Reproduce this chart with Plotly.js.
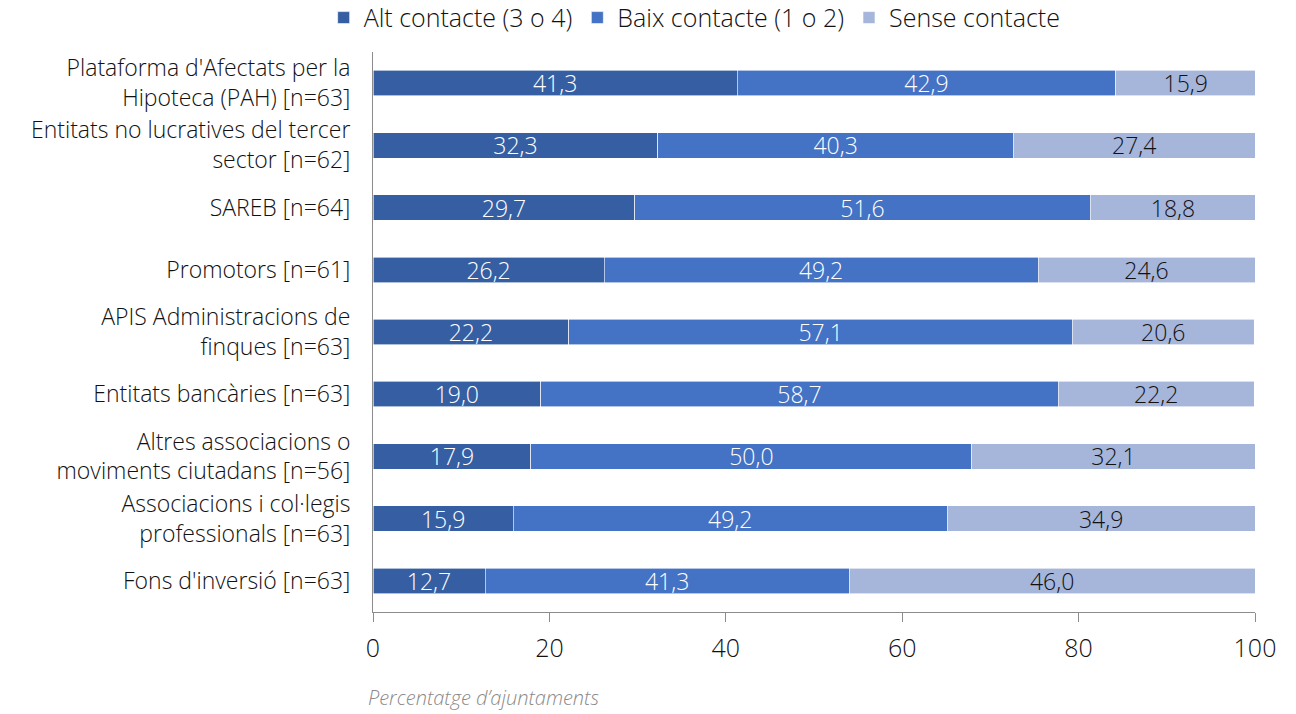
<!DOCTYPE html>
<html>
<head>
<meta charset="utf-8">
<script src="https://cdn.plot.ly/plotly-3.0.1.min.js"></script>
<style>html,body{margin:0;padding:0;background:#fff;}#chart{width:1296px;height:714px;}</style>
</head>
<body>
<div id="chart"></div>
<script>
const categories = [
  "Plataforma d'Afectats per la<br>Hipoteca (PAH) [n=63]",
  "Entitats no lucratives del tercer<br>sector [n=62]",
  "SAREB [n=64]",
  "Promotors [n=61]",
  "APIS Administracions de<br>finques [n=63]",
  "Entitats bancàries [n=63]",
  "Altres associacions o<br>moviments ciutadans [n=56]",
  "Associacions i col·legis<br>professionals [n=63]",
  "Fons d'inversió [n=63]"
];
const seriesNames = ["Alt contacte (3 o 4)", "Baix contacte (1 o 2)", "Sense contacte"];
const altContacte = [41.3, 32.3, 29.7, 26.2, 22.2, 19.0, 17.9, 15.9, 12.7];
const baixContacte = [42.9, 40.3, 51.6, 49.2, 57.1, 58.7, 50.0, 49.2, 41.3];
const senseContacte = [15.9, 27.4, 18.8, 24.6, 20.6, 22.2, 32.1, 34.9, 46.0];
const xTicks = [0, 20, 40, 60, 80, 100];
const xTitle = "Percentatge d\u2019ajuntaments";

const colors = ["#365fa3", "#4472c4", "#a6b5da"];
const textColors = ["#ffffff", "#ffffff", "#111111"];
const FONT = "'Open Sans', 'Liberation Sans', sans-serif";

const vals = [altContacte, baixContacte, senseContacte];
const traces = vals.map((v, i) => ({
  type: 'bar',
  orientation: 'h',
  name: seriesNames[i],
  y: categories,
  x: v,
  width: 0.41,
  marker: {color: colors[i], line: {color: '#ffffff', width: 0.6}},
  texttemplate: '%{x:.1f}',
  textposition: 'inside',
  insidetextanchor: 'middle',
  constraintext: 'none',
  textangle: 0,
  textfont: {family: FONT, size: 23, color: textColors[i], weight: 300},
  hoverinfo: 'none'
}));

const layout = {
  width: 1296, height: 714,
  barmode: 'stack',
  separators: ',.',
  margin: {l: 373, r: 41, t: 52, b: 102},
  paper_bgcolor: '#ffffff',
  plot_bgcolor: '#ffffff',
  font: {family: FONT, size: 22, color: '#111111', weight: 300},
  showlegend: true,
  legend: {
    orientation: 'h', xref: 'container', x: 0.536, xanchor: 'center',
    yref: 'container', y: 0.975, yanchor: 'middle',
    font: {family: FONT, size: 25, color: '#111111', weight: 300},
    itemwidth: 30, tracegroupgap: 0, traceorder: 'normal',
    itemclick: false
  },
  xaxis: {
    range: [0, 100],
    tickvals: xTicks,
    ticktext: xTicks.map(String),
    showgrid: false, zeroline: false,
    showline: true, linecolor: '#8c8c8c', linewidth: 1,
    ticks: 'outside', ticklen: 9, tickcolor: '#8c8c8c',
    ticklabelstandoff: 5,
    tickfont: {family: FONT, size: 25, color: '#111111', weight: 300}
  },
  yaxis: {
    autorange: 'reversed',
    showgrid: false, zeroline: false,
    showline: true, linecolor: '#8c8c8c', linewidth: 1,
    ticks: '', ticklabelstandoff: 17,
    tickfont: {family: FONT, size: 23, color: '#111111', weight: 300}
  },
  annotations: [{
    text: "<i>" + xTitle + "</i>",
    xref: 'paper', x: -0.008, xanchor: 'left',
    yref: 'paper', y: -0.152, yanchor: 'middle',
    showarrow: false,
    font: {family: FONT, size: 20, color: '#8a8a8a', weight: 300}
  }]
};

Plotly.newPlot('chart', traces, layout, {displayModeBar: false, staticPlot: true});
</script>
</body>
</html>
